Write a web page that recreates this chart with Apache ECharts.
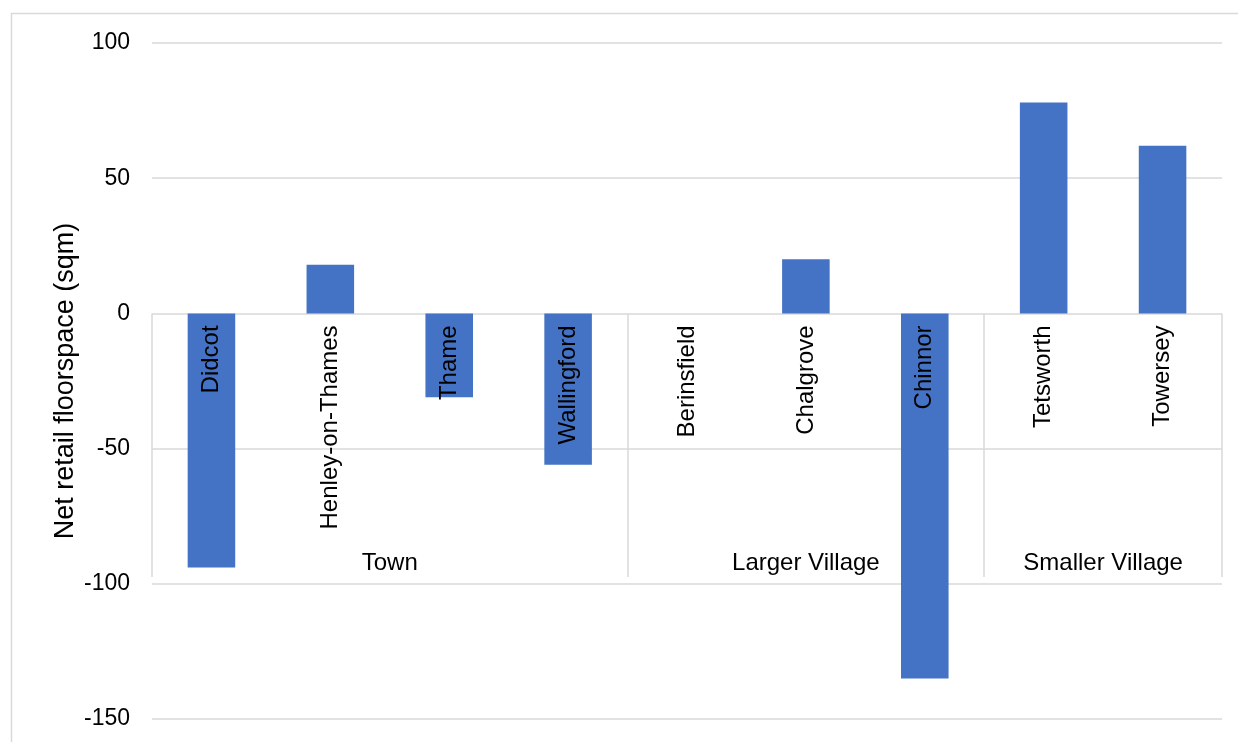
<!DOCTYPE html>
<html>
<head>
<meta charset="utf-8">
<script src="https://cdn.jsdelivr.net/npm/echarts@6/dist/echarts.min.js"></script>
<style>html,body{margin:0;padding:0;background:#fff}#c{width:1238px;height:742px}</style>
</head>
<body>
<div id="c"></div>
<script>
const categories = ['Didcot','Henley-on-Thames','Thame','Wallingford','Berinsfield','Chalgrove','Chinnor','Tetsworth','Towersey'];
const values = [-94, 18, -31, -56, 0, 20, -135, 78, 62];
const groups = ['Town','Larger Village','Smaller Village'];
const groupCenters = [1.5, 5, 7.5];
const groupBounds = [-0.5, 3.5, 6.5, 8.5];
const groupLabelY = -92.5;
const groupLineBottom = -97.5;
const yTicks = { min: -150, max: 100, interval: 50 };

const FONT = 'Liberation Sans, Arial, sans-serif';
const chart = echarts.init(document.getElementById('c'));
chart.setOption({
  animation: false,
  textStyle: { fontFamily: FONT },
  graphic: [{ type: 'rect', shape: { x: 11.5, y: 13.5, width: 1400, height: 900 }, style: { fill: 'none', stroke: '#d9d9d9', lineWidth: 1.5 }, silent: true }],
  grid: { left: 152, right: 16, top: 43, bottom: 23, containLabel: false, outerBoundsMode: 'none' },
  xAxis: [{
    type: 'category', data: categories,
    axisLine: { show: false }, axisTick: { show: false }, axisLabel: { show: false }
  }, {
    type: 'value', min: -0.5, max: 8.5, show: false, position: 'top',
    axisLine: { onZero: false }
  }],
  yAxis: {
    type: 'value', min: yTicks.min, max: yTicks.max, interval: yTicks.interval,
    name: 'Net retail floorspace (sqm)', nameLocation: 'middle', nameGap: 73, nameMoveOverlap: false,
    nameTextStyle: { fontSize: 27, color: '#000', fontFamily: FONT },
    axisLine: { show: false, onZero: false }, axisTick: { show: false },
    axisLabel: { fontSize: 23, color: '#000', margin: 22, fontFamily: FONT },
    splitLine: { lineStyle: { color: '#d9d9d9', width: 1.5 } }
  },
  series: [{
    type: 'bar', data: values, barWidth: '40%', itemStyle: { color: '#4472c4' }, z: 2
  }, {
    type: 'scatter', xAxisIndex: 0, symbolSize: 0, z: 6,
    itemStyle: { opacity: 1 },
    data: categories.map(c => ({ value: [c, 0], name: c })),
    label: { show: true, position: 'bottom', distance: 12, rotate: 90, align: 'right', verticalAlign: 'middle',
      formatter: p => p.name, fontSize: 24, color: '#000', opacity: 1, fontFamily: FONT }
  }, {
    type: 'scatter', xAxisIndex: 1, symbolSize: 0, z: 5,
    itemStyle: { opacity: 1 },
    data: groups.map((g, i) => ({ value: [groupCenters[i], groupLabelY], name: g })),
    label: { show: true, position: 'inside', formatter: p => p.name, fontSize: 24, color: '#000', opacity: 1, fontFamily: FONT },
    markLine: {
      silent: true, symbol: 'none', label: { show: false },
      lineStyle: { color: '#d9d9d9', width: 1.5, type: 'solid' },
      data: groupBounds.map(b => [{ coord: [b, 0] }, { coord: [b, groupLineBottom] }])
    }
  }]
});
</script>
</body>
</html>
